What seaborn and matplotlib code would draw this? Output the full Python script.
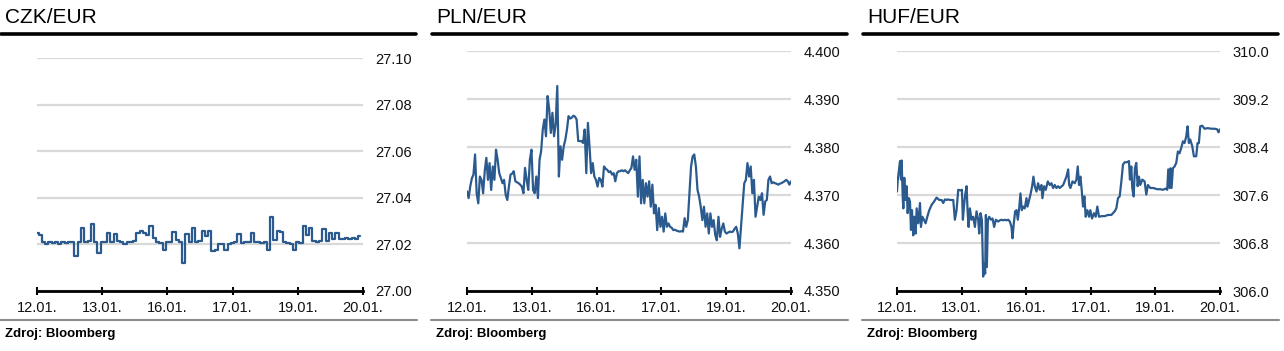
import numpy as np
import pandas as pd
import matplotlib
matplotlib.use("Agg")
import matplotlib.pyplot as plt
import seaborn as sns
from matplotlib.lines import Line2D
from matplotlib.ticker import FormatStrFormatter

# ---- data (intraday quotes 12.01. - 20.01.) ----
day_labels = ["12.01.", "13.01.", "16.01.", "17.01.", "19.01.", "20.01."]

czk_eur = [
    27.025, 27.024, 27.021, 27.020, 27.021, 27.0205, 27.021, 27.020, 27.021, 27.0205,
    27.021, 27.021, 27.015, 27.021, 27.027, 27.021, 27.0215, 27.029, 27.021, 27.0165,
    27.021, 27.021, 27.025, 27.021, 27.0245, 27.0215, 27.021, 27.020, 27.021, 27.021,
    27.0215, 27.025, 27.0257, 27.025, 27.024, 27.028, 27.023, 27.021, 27.0205, 27.0175,
    27.021, 27.021, 27.0255, 27.022, 27.021, 27.012, 27.0245, 27.021, 27.027, 27.021,
    27.0215, 27.026, 27.0235, 27.026, 27.017, 27.0175, 27.020, 27.020, 27.0177, 27.020,
    27.0205, 27.021, 27.0245, 27.0205, 27.021, 27.021, 27.025, 27.021, 27.021, 27.0205,
    27.021, 27.0175, 27.032, 27.022, 27.026, 27.0255, 27.021, 27.0205, 27.020, 27.0175,
    27.021, 27.0205, 27.028, 27.024, 27.027, 27.0215, 27.021, 27.0215, 27.0265, 27.0215,
    27.025, 27.0225, 27.025, 27.0225, 27.0225, 27.023, 27.0225, 27.023, 27.0225, 27.0235,
]

pln_eur = [
    4.3708, 4.3694, 4.3718, 4.3735, 4.3743, 4.3785, 4.3704, 4.3683, 4.3739, 4.3732,
    4.3704, 4.3750, 4.3778, 4.3732, 4.3767, 4.3711, 4.3760, 4.3732, 4.3795, 4.3774,
    4.3746, 4.3736, 4.3725, 4.3732, 4.3701, 4.3690, 4.3718, 4.3743, 4.3745, 4.3750,
    4.3729, 4.3727, 4.3725, 4.3722, 4.3718, 4.3704, 4.3757, 4.3732, 4.3711, 4.3774,
    4.3795, 4.3711, 4.3704, 4.3739, 4.3694, 4.3774, 4.3792, 4.3837, 4.3858, 4.3823,
    4.3907, 4.3879, 4.3830, 4.3872, 4.3823, 4.3848, 4.3928, 4.3739, 4.3802, 4.3774,
    4.3802, 4.3816, 4.3837, 4.3865, 4.3860, 4.3862, 4.3866, 4.3864, 4.3858, 4.3813,
    4.3813, 4.3813, 4.3809, 4.3837, 4.3746, 4.3851, 4.3802, 4.3746, 4.3767, 4.3739,
    4.3732, 4.3718, 4.3736, 4.3732, 4.3718, 4.3760, 4.3755, 4.3753, 4.3748, 4.3750,
    4.3743, 4.3746, 4.3729, 4.3746,
    4.3750, 4.3750, 4.3752, 4.3750, 4.3752, 4.3749, 4.3746, 4.3752, 4.3757, 4.3781,
    4.3753, 4.3774, 4.3697, 4.3781, 4.3683, 4.3732, 4.3683, 4.3725, 4.3697, 4.3729,
    4.3676, 4.3722, 4.3662, 4.3680, 4.3627, 4.3673, 4.3634, 4.3655, 4.3624, 4.3662,
    4.3634, 4.3641, 4.3634, 4.3632, 4.3627, 4.3628, 4.3626, 4.3625, 4.3624, 4.3625,
    4.3624, 4.3652, 4.3634, 4.3648, 4.3704, 4.3760, 4.3781, 4.3785, 4.3760, 4.3711,
    4.3697, 4.3676, 4.3648, 4.3676, 4.3634, 4.3662, 4.3620, 4.3662, 4.3634, 4.3648,
    4.3617, 4.3606, 4.3655, 4.3613, 4.3630, 4.3641, 4.3624, 4.3620, 4.3622, 4.3624,
    4.3623, 4.3624, 4.3630, 4.3634, 4.3620, 4.3589, 4.3634, 4.3676, 4.3725, 4.3732,
    4.3767, 4.3739, 4.3760, 4.3704, 4.3732, 4.3655, 4.3676, 4.3697, 4.3690, 4.3704,
    4.3659, 4.3687, 4.3690, 4.3732, 4.3739, 4.3725, 4.3727, 4.3725, 4.3724, 4.3722,
    4.3724, 4.3725, 4.3727, 4.3729, 4.3732, 4.3729, 4.3722, 4.3729,
]

# HUF quotes are irregularly spaced, so they keep their own time stamps (trading days)
huf_time = [
    0.000, 0.010, 0.031, 0.046, 0.062, 0.072, 0.088, 0.098, 0.113, 0.129,
    0.149, 0.165, 0.185, 0.201, 0.216, 0.232, 0.252, 0.268, 0.289, 0.304,
    0.330, 0.356, 0.371, 0.392, 0.417, 0.443, 0.469, 0.500, 0.536, 0.572,
    0.613, 0.654, 0.690, 0.716, 0.742, 0.768, 0.793, 0.819, 0.845, 0.871,
    0.896, 0.922, 0.948, 0.984, 1.005, 1.020, 1.036, 1.056, 1.077, 1.092,
    1.108, 1.128, 1.154, 1.180, 1.206, 1.231, 1.257, 1.273, 1.293, 1.314,
    1.334, 1.350, 1.365, 1.376, 1.391, 1.407, 1.427, 1.453, 1.479, 1.504,
    1.530, 1.566, 1.592, 1.618, 1.643, 1.669, 1.695, 1.721, 1.747, 1.772,
    1.788, 1.808, 1.829, 1.850, 1.870, 1.891, 1.911, 1.932, 1.953, 1.978,
    2.004, 2.020, 2.045, 2.066, 2.092, 2.112, 2.133, 2.159, 2.184, 2.210,
    2.236, 2.251, 2.277, 2.303, 2.334, 2.365, 2.391, 2.416, 2.442, 2.468,
    2.494, 2.519,
    2.572, 2.623, 2.649, 2.665, 2.685, 2.716, 2.751, 2.777, 2.798, 2.818,
    2.839, 2.859, 2.880, 2.901, 2.921, 2.947, 2.973, 2.993, 3.019, 3.050,
    3.076, 3.101, 3.127, 3.163, 3.215, 3.266, 3.318, 3.369, 3.395, 3.421,
    3.447, 3.473, 3.498, 3.524, 3.560, 3.591, 3.606, 3.627, 3.642, 3.663,
    3.683, 3.704, 3.725, 3.745, 3.766, 3.797, 3.833, 3.859, 3.884, 3.921,
    3.972, 4.024, 4.075, 4.116, 4.158, 4.183, 4.199, 4.220, 4.235, 4.250,
    4.271, 4.297, 4.323, 4.348, 4.374, 4.400, 4.426, 4.451, 4.477, 4.498,
    4.518, 4.539, 4.570, 4.596, 4.632, 4.652, 4.673, 4.694, 4.725, 4.761,
    4.812, 4.864, 4.915, 4.956, 4.977, 5.000,
]
huf_eur = [
    307.66, 307.83, 308.03, 308.17, 307.86, 308.18, 307.58, 307.38, 307.89, 307.52,
    307.75, 307.30, 307.55, 307.49, 307.02, 307.35, 306.93, 307.24, 306.96, 307.38,
    307.13, 307.47, 307.07, 307.24, 307.19, 307.13, 307.24, 307.35, 307.44, 307.49,
    307.56, 307.52, 307.52, 307.47, 307.53, 307.52, 307.53, 307.52, 307.52, 307.52,
    307.19, 307.35, 307.69, 307.68, 307.69, 307.19, 307.41, 307.61, 307.75, 307.35,
    307.07, 307.38, 307.19, 307.24, 307.07, 307.33, 307.19, 306.96, 307.30, 307.19,
    306.24, 306.46, 306.29, 307.27, 306.40, 307.19, 307.24, 307.19, 307.21, 307.07,
    307.19, 307.16, 307.18, 307.19, 307.18, 307.19, 307.18, 307.19, 307.16, 307.07,
    306.88, 307.13, 307.33, 307.35, 307.19, 307.38, 307.63, 307.35, 307.41, 307.38,
    307.55, 307.41, 307.52, 307.61, 307.75, 307.91, 307.75, 307.66, 307.80, 307.69,
    307.77, 307.55, 307.75, 307.69, 307.83, 307.77, 307.80, 307.72, 307.77, 307.72,
    307.75, 307.72,
    307.77, 307.91, 308.03, 307.77, 307.72, 307.83, 307.80, 307.86, 308.08, 307.77,
    307.91, 307.69, 307.41, 307.58, 307.24, 307.35, 307.24, 307.35, 307.21, 307.30,
    307.24, 307.41, 307.24, 307.25, 307.25, 307.27, 307.27, 307.33, 307.38, 307.55,
    307.58, 307.83, 308.11, 308.15, 308.15, 308.17, 307.86, 308.08, 307.72, 307.58,
    308.05, 308.14, 307.75, 307.91, 307.77, 307.86, 307.83, 307.61, 307.77, 307.72,
    307.72, 307.70, 307.70, 307.69, 307.71, 307.69, 308.03, 307.72, 308.05, 307.72,
    308.05, 308.08, 308.14, 308.33, 308.30, 308.39, 308.50, 308.47, 308.58, 308.75,
    308.47, 308.53, 308.42, 308.25, 308.25, 308.47, 308.47, 308.75, 308.76, 308.71,
    308.72, 308.71, 308.71, 308.70, 308.65, 308.70,
]

czk_time = np.linspace(0, 4.95, len(czk_eur))
pln_time = np.linspace(0, 5.0, len(pln_eur))

# ---- style ----
sns.set_theme(style="white")
plt.rcParams["font.family"] = ["Liberation Sans", "DejaVu Sans"]

LINE = "#2b5b8e"
GRID = "#d9d9d9"
W, H = 1284, 351

fig = plt.figure(figsize=(W / 100, H / 100), dpi=100)


def fx(x):
    return x / W


def fy(y):
    return 1 - y / H


panels = [
    # title, panel left, axes left/right/top px, data, ylim, step, fmt, drawstyle
    ("CZK/EUR", 0, 37, 363, 58, czk_time, czk_eur, (27.00, 27.10), 0.02, "%.2f", "steps-mid"),
    ("PLN/EUR", 431, 467, 791, 51, pln_time, pln_eur, (4.350, 4.400), 0.01, "%.3f", "default"),
    ("HUF/EUR", 862, 897, 1220, 51, huf_time, huf_eur, (306.0, 310.0), 0.8, "%.1f", "default"),
]

for title, p0, left, right, top, t, vals, ylim, step, fmt, dstyle in panels:
    bottom = 291
    ax = fig.add_axes([fx(left), fy(bottom), (right - left) / W, (bottom - top) / H])
    df = pd.DataFrame({"t": t, "v": vals})
    sns.lineplot(data=df, x="t", y="v", ax=ax, color=LINE, linewidth=1.6,
                 sort=False, estimator=None, drawstyle=dstyle)

    ax.set_xlim(0, 5)
    ax.set_ylim(ylim[0], ylim[1] + (ylim[1] - ylim[0]) * 0.002)
    ticks = np.round(np.arange(ylim[0], ylim[1] + step / 2, step), 4)
    ax.set_yticks(ticks)
    ax.yaxis.set_major_formatter(FormatStrFormatter(fmt))
    ax.yaxis.tick_right()
    ax.set_xticks(range(len(day_labels)))
    ax.set_xticklabels(day_labels)
    ax.set_xlabel("")
    ax.set_ylabel("")

    ax.grid(axis="y", color=GRID, linewidth=1.6)
    ax.grid(axis="x", visible=False)
    ax.set_axisbelow(True)
    for s in ("left", "right", "top"):
        ax.spines[s].set_visible(False)
    ax.spines["bottom"].set_color("black")
    ax.spines["bottom"].set_linewidth(2.0)
    ax.tick_params(axis="y", length=0, pad=9, labelsize=10.5, labelcolor="#111111")
    ax.tick_params(axis="x", direction="inout", length=6, width=1.5, color="black",
                   pad=4, labelsize=10.5, labelcolor="#111111", bottom=True)
    ax.patch.set_alpha(0)

    # header, rules and source note
    fig.text(fx(p0 + 5), fy(23), title, fontsize=15, va="baseline", ha="left",
             color="black")
    fig.add_artist(Line2D([fx(p0 + 1), fx(p0 + 416)], [fy(33.5)] * 2,
                          color="black", linewidth=2.6, transform=fig.transFigure))
    fig.add_artist(Line2D([fx(p0), fx(p0 + 417)], [fy(320)] * 2,
                          color="#8c8c8c", linewidth=1.5, transform=fig.transFigure))
    fig.text(fx(p0 + 5), fy(337), "Zdroj: Bloomberg", fontsize=9.5,
             fontweight="bold", va="baseline", ha="left", color="black")

fig.savefig("out.png", dpi=100)
